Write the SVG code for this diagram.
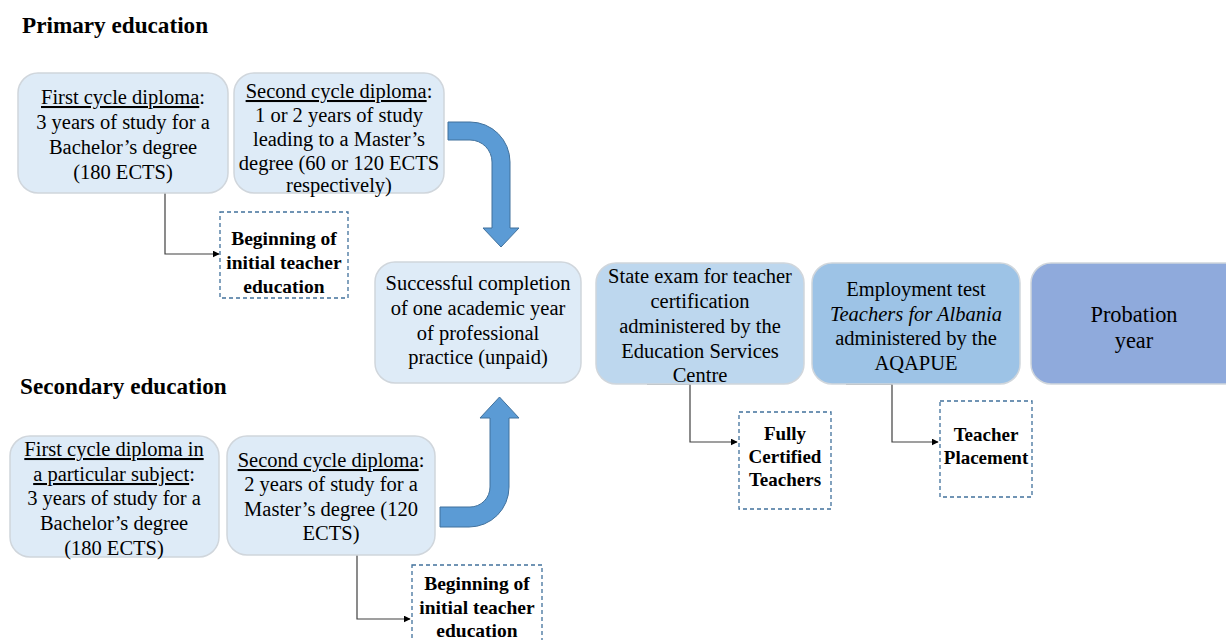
<svg xmlns="http://www.w3.org/2000/svg" width="1226" height="640" viewBox="0 0 1226 640" font-family="'Liberation Serif', 'Times New Roman', Tinos, 'DejaVu Serif', serif">
<style>
text{font-family:"Liberation Serif","Times New Roman",Tinos,"DejaVu Serif",serif;fill:#000}
.h{font-size:23.2px;font-weight:bold}
.t{font-size:20.5px;text-anchor:middle}
.b{font-size:19.5px;font-weight:bold;text-anchor:middle}
.b2{font-size:19px;font-weight:bold;text-anchor:middle}
.box{fill:#DEEBF7;stroke:#D0D6DC;stroke-width:1.5}
.dash{fill:#fff;stroke:#41719C;stroke-width:1.3;stroke-dasharray:4 3}
.arr{fill:#5B9BD5;stroke:#41719C;stroke-width:1}
.con{fill:none;stroke:#404040;stroke-width:1.2;marker-end:url(#ah)}
.u{text-decoration:underline}
</style>
<defs>
<marker id="ah" viewBox="0 0 10 10" refX="9" refY="5" markerWidth="7" markerHeight="7" markerUnits="userSpaceOnUse" orient="auto">
<path d="M0,0 L10,5 L0,10 Z" fill="#000"/>
</marker>
</defs>
<rect width="1226" height="640" fill="#fff"/>
<text class="h" x="22" y="33">Primary education</text>
<text class="h" x="20" y="394">Secondary education</text>

<g id="connectors">
<path class="con" d="M165,193 L165,254 L219,254"/>
<path class="con" d="M647,384 L690,384 L690,442 L737,442"/>
<path class="con" d="M846,384 L892,384 L892,442 L938,442"/>
<path class="con" d="M357,555 L357,619 L410,619"/>
<path class="arr" d="M448,122 L470,122 A40,40 0 0 1 510,162 L510,228 L519,228 L501,247 L483,228 L492,228 L492,162 A22,22 0 0 0 470,140 L448,140 Z"/>
<path class="arr" d="M440,507 L470,507 A20,20 0 0 0 490,487 L490,418 L480,418 L499.5,397 L519,418 L509,418 L509,487 A40,40 0 0 1 469,527 L440,527 Z"/>
</g>

<g id="n-first-primary">
<rect class="box" x="18" y="73" width="210" height="120" rx="20"/>
<text class="t" x="123" y="104"><tspan class="u">First cycle diploma</tspan>:</text>
<text class="t" x="123" y="129">3 years of study for a</text>
<text class="t" x="123" y="154">Bachelor’s degree</text>
<text class="t" x="123" y="179">(180 ECTS)</text>
</g>

<g id="n-second-primary">
<rect class="box" x="234" y="73" width="210" height="120" rx="20"/>
<text class="t" x="339" y="98"><tspan class="u">Second cycle diploma</tspan>:</text>
<text class="t" x="339" y="122">1 or 2 years of study</text>
<text class="t" x="339" y="146">leading to a Master’s</text>
<text class="t" x="339" y="170">degree (60 or 120 ECTS</text>
<text class="t" x="339" y="192">respectively)</text>
</g>

<g id="n-begin-primary">
<rect class="dash" x="220" y="212" width="128" height="86"/>
<text class="b" x="284" y="245">Beginning of</text>
<text class="b" x="284" y="269">initial teacher</text>
<text class="b" x="284" y="293">education</text>
</g>

<g id="n-practice">
<rect class="box" x="375" y="262" width="206" height="121" rx="20"/>
<text class="t" x="478" y="290">Successful completion</text>
<text class="t" x="478" y="315">of one academic year</text>
<text class="t" x="478" y="340">of professional</text>
<text class="t" x="478" y="364">practice (unpaid)</text>
</g>

<g id="n-state-exam">
<rect x="596" y="263" width="208" height="121" rx="20" fill="#BDD7EE" stroke="#D0D6DC" stroke-width="1.5"/>
<text class="t" x="700" y="283">State exam for teacher</text>
<text class="t" x="700" y="308">certification</text>
<text class="t" x="700" y="333">administered by the</text>
<text class="t" x="700" y="358">Education Services</text>
<text class="t" x="700" y="382">Centre</text>
</g>

<g id="n-employment">
<rect x="812" y="263" width="208" height="121" rx="20" fill="#9DC3E6" stroke="#D0D6DC" stroke-width="1.5"/>
<text class="t" x="916" y="296">Employment test</text>
<text class="t" x="916" y="321" font-style="italic">Teachers for Albania</text>
<text class="t" x="916" y="345">administered by the</text>
<text class="t" x="916" y="370">AQAPUE</text>
</g>

<g id="n-probation">
<rect x="1031" y="263" width="215" height="121" rx="20" fill="#8FAADC" stroke="#D0D6DC" stroke-width="1.5"/>
<text class="t" x="1134" y="322" style="font-size:22.4px">Probation</text>
<text class="t" x="1134" y="348" style="font-size:22.4px">year</text>
</g>

<g id="n-fully-certified">
<rect class="dash" x="739" y="412" width="92" height="97"/>
<text class="b2" x="785" y="440">Fully</text>
<text class="b2" x="785" y="463">Certified</text>
<text class="b2" x="785" y="486">Teachers</text>
</g>

<g id="n-placement">
<rect class="dash" x="940" y="401" width="92" height="96"/>
<text class="b2" x="986" y="441">Teacher</text>
<text class="b2" x="986" y="464">Placement</text>
</g>

<g id="n-first-secondary">
<rect class="box" x="10" y="436" width="209" height="121" rx="20"/>
<text class="t" x="114" y="456"><tspan class="u">First cycle diploma in</tspan></text>
<text class="t" x="114" y="481"><tspan class="u">a particular subject</tspan>:</text>
<text class="t" x="114" y="505">3 years of study for a</text>
<text class="t" x="114" y="530">Bachelor’s degree</text>
<text class="t" x="114" y="555">(180 ECTS)</text>
</g>

<g id="n-second-secondary">
<rect class="box" x="227" y="436" width="208" height="119" rx="20"/>
<text class="t" x="331" y="467"><tspan class="u">Second cycle diploma</tspan>:</text>
<text class="t" x="331" y="491">2 years of study for a</text>
<text class="t" x="331" y="516">Master’s degree (120</text>
<text class="t" x="331" y="540">ECTS)</text>
</g>

<g id="n-begin-secondary">
<rect class="dash" x="412" y="565" width="130" height="85"/>
<text class="b" x="477" y="590">Beginning of</text>
<text class="b" x="477" y="614">initial teacher</text>
<text class="b" x="477" y="637">education</text>
</g>
</svg>
